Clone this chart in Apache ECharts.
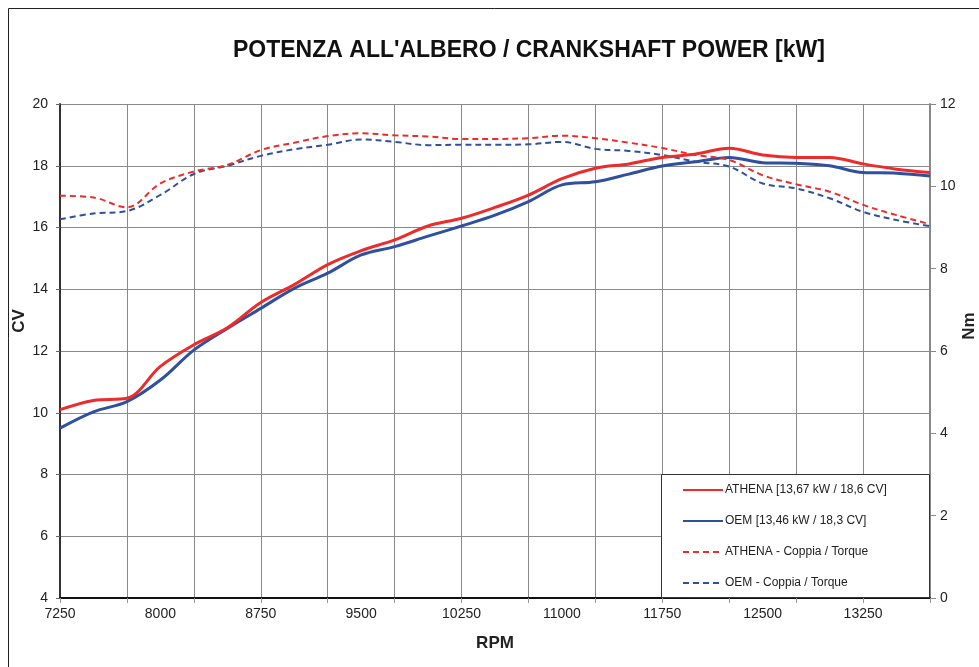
<!DOCTYPE html>
<html>
<head>
<meta charset="utf-8">
<script src="https://cdn.jsdelivr.net/npm/echarts@6/dist/echarts.min.js"></script>
<style>
  html, body { margin: 0; padding: 0; background: #fff; }
  #chart { width: 979px; height: 667px; }
</style>
</head>
<body>
<div id="chart"></div>
<script>
// giri motore, passo 250
const rpm = [
  7250, 7500, 7750, 8000, 8250, 8500, 8750, 9000, 9250, 9500,
  9750, 10000, 10250, 10500, 10750, 11000, 11250, 11500, 11750, 12000,
  12250, 12500, 12750, 13000, 13250, 13500, 13750
];
// potenza [CV]
const athenaPower = [
  10.1, 10.4, 10.47, 11.5, 12.2, 12.75, 13.57, 14.15, 14.8, 15.25,
  15.6, 16.05, 16.3, 16.65, 17.05, 17.58, 17.92, 18.06, 18.27, 18.38,
  18.57, 18.35, 18.27, 18.27, 18.06, 17.89, 17.78
];
const oemPower = [
  9.5, 10.03, 10.36, 11.06, 12.03, 12.73, 13.38, 14.03, 14.52, 15.11,
  15.38, 15.72, 16.05, 16.4, 16.84, 17.38, 17.48, 17.73, 17.99, 18.13,
  18.27, 18.1, 18.08, 18.0, 17.78, 17.76, 17.67
];
// coppia [Nm]
const athenaTorque = [
  9.77, 9.73, 9.49, 10.07, 10.36, 10.52, 10.88, 11.06, 11.22, 11.29,
  11.24, 11.21, 11.15, 11.15, 11.17, 11.23, 11.17, 11.06, 10.93, 10.76,
  10.64, 10.27, 10.05, 9.87, 9.55, 9.3, 9.08
];
const oemTorque = [
  9.2, 9.34, 9.4, 9.79, 10.3, 10.5, 10.74, 10.9, 11.01, 11.14,
  11.08, 11.0, 11.01, 11.01, 11.02, 11.08, 10.91, 10.86, 10.76, 10.6,
  10.48, 10.07, 9.95, 9.71, 9.38, 9.18, 9.03
];
const seriesNames = [
  "ATHENA [13,67 kW / 18,6 CV]",
  "OEM [13,46 kW / 18,3 CV]",
  "ATHENA - Coppia / Torque",
  "OEM - Coppia / Torque"
];

const RED = "#ee2b2b";
const BLUE = "#2f4f9f";
const FONT = "Liberation Sans";

const chart = echarts.init(document.getElementById("chart"));

const option = {
  animation: false,
  textStyle: { fontFamily: FONT },
  title: {
    text: "POTENZA ALL'ALBERO / CRANKSHAFT POWER [kW]",
    left: 228,
    top: 34,
    textStyle: { fontFamily: FONT, fontSize: 23, fontWeight: "bold", color: "#111" }
  },
  graphic: [
    {
      type: "rect",
      shape: { x: 8.5, y: 8.5, width: 1000, height: 700 },
      style: { fill: "none", stroke: "#222", lineWidth: 1 },
      z: 0,
      silent: true
    },
    {
      type: "rect",
      shape: { x: 661.5, y: 474.5, width: 268, height: 123 },
      style: { fill: "#fff", stroke: "#333", lineWidth: 1 },
      z: 3,
      silent: true
    }
  ],
  legend: {
    orient: "vertical",
    left: 677,
    top: 479,
    itemGap: 19,
    itemWidth: 40,
    itemHeight: 12,
    z: 10,
    itemStyle: { opacity: 0 },
    textStyle: { fontFamily: FONT, fontSize: 12, color: "#222", padding: [0, 0, 0, -3] },
    data: seriesNames
  },
  grid: { left: 60, right: 49, top: 104, bottom: 69, outerBoundsMode: "none", containLabel: false },
  xAxis: {
    type: "category",
    data: rpm,
    boundaryGap: false,
    name: "RPM",
    nameLocation: "middle",
    nameGap: 37,
    nameTextStyle: { fontFamily: FONT, fontSize: 17, fontWeight: "bold", color: "#222" },
    axisLine: { lineStyle: { color: "#111", width: 2 } },
    axisTick: { show: true, interval: 1, length: 5, lineStyle: { color: "#999" } },
    axisLabel: { interval: 2, margin: 9, fontSize: 14, color: "#222" },
    splitLine: { show: true, interval: 1, lineStyle: { color: "#8a8a8a", width: 1 } }
  },
  yAxis: [
    {
      type: "value",
      min: 4,
      max: 20,
      interval: 2,
      name: "CV",
      nameLocation: "middle",
      nameGap: 32,
      nameMoveOverlap: false,
      nameTextStyle: { fontFamily: FONT, fontSize: 17, fontWeight: "bold", color: "#222", padding: [0, 0, 0, 60] },
      axisLine: { show: true, lineStyle: { color: "#333", width: 2 } },
      axisTick: { show: true, length: 4, lineStyle: { color: "#666" } },
      axisLabel: { margin: 12, fontSize: 14, color: "#222" },
      splitLine: { show: true, lineStyle: { color: "#8a8a8a", width: 1 } }
    },
    {
      type: "value",
      min: 0,
      max: 12,
      interval: 2,
      position: "right",
      name: "Nm",
      nameLocation: "middle",
      nameGap: 31,
      nameMoveOverlap: false,
      nameTextStyle: { fontFamily: FONT, fontSize: 17, fontWeight: "bold", color: "#222", padding: [0, 0, 0, 50] },
      axisLine: { show: true, lineStyle: { color: "#888", width: 2 } },
      axisTick: { show: true, length: 6, lineStyle: { color: "#888" } },
      axisLabel: { margin: 10, fontSize: 14, color: "#222" },
      splitLine: { show: false }
    }
  ],
  series: [
    {
      name: seriesNames[0],
      type: "line",
      yAxisIndex: 0,
      data: athenaPower,
      smooth: 0.35,
      symbol: "none",
      z: 6,
      lineStyle: { color: RED, width: 3 },
      itemStyle: { color: RED }
    },
    {
      name: seriesNames[1],
      type: "line",
      yAxisIndex: 0,
      data: oemPower,
      smooth: 0.35,
      symbol: "none",
      z: 5,
      lineStyle: { color: BLUE, width: 3 },
      itemStyle: { color: BLUE }
    },
    {
      name: seriesNames[2],
      type: "line",
      yAxisIndex: 1,
      data: athenaTorque,
      smooth: 0.35,
      symbol: "none",
      z: 6,
      lineStyle: { color: RED, width: 2, type: [6, 4] },
      itemStyle: { color: RED }
    },
    {
      name: seriesNames[3],
      type: "line",
      yAxisIndex: 1,
      data: oemTorque,
      smooth: 0.35,
      symbol: "none",
      z: 5,
      lineStyle: { color: BLUE, width: 2, type: [6, 4] },
      itemStyle: { color: BLUE }
    }
  ]
};

chart.setOption(option);
</script>
</body>
</html>
